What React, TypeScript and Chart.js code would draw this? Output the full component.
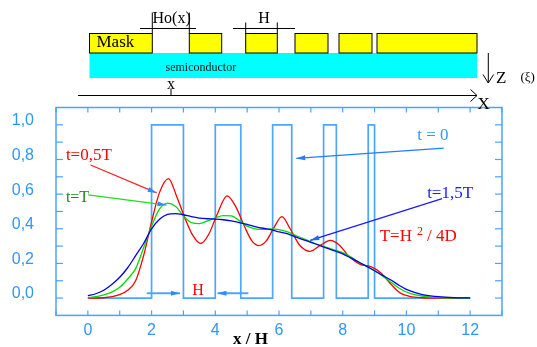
import React, { useEffect, useRef } from 'react';
import { Chart, registerables } from 'chart.js';

Chart.register(...registerables);

// ---------- data ----------
const xTickValues = [0, 2, 4, 6, 8, 10, 12];
const yTickValues = [0, 0.2, 0.4, 0.6, 0.8, 1.0];
const xMinorTicks = [-1, 0, 1, 2, 3, 4, 5, 6, 7, 8, 9, 10, 11, 12, 13];
const yMinorTicks = [0, 0.1, 0.2, 0.3, 0.4, 0.5, 0.6, 0.7, 0.8, 0.9, 1.0];

// t = 0 : initial square profile (mask openings)
const squareX = [0, 2, 3, 4, 4.8, 5.8, 6.4, 7.4, 7.8, 8.8, 9.0, 12];
const squareY = [0, 1, 0, 1, 0, 1, 0, 1, 0, 1, 0, 0];

// t = 0,5T
const redX = [0, 0.5, 1.0, 1.25, 1.5, 1.75, 2.0, 2.25, 2.53, 2.8, 3.05, 3.3, 3.54, 3.8, 4.05, 4.37, 4.65, 4.9, 5.15, 5.37, 5.6, 5.85, 6.09, 6.35, 6.65, 6.98, 7.3, 7.61, 7.9, 8.2, 8.55, 8.9, 9.2, 9.5, 9.8, 10.1, 10.5, 11, 12];
const redY = [0, 0.002, 0.02, 0.045, 0.10, 0.245, 0.44, 0.61, 0.69, 0.58, 0.46, 0.36, 0.315, 0.37, 0.48, 0.59, 0.525, 0.42, 0.33, 0.303, 0.33, 0.41, 0.47, 0.40, 0.305, 0.27, 0.305, 0.333, 0.305, 0.24, 0.195, 0.18, 0.145, 0.083, 0.03, 0.01, 0.002, 0, 0];

// t = T and t = 1,5T
const curveX = [0, 0.25, 0.5, 0.75, 1, 1.25, 1.5, 1.75, 2, 2.25, 2.5, 2.75, 3, 3.25, 3.5, 3.75, 4, 4.25, 4.5, 4.75, 5, 5.25, 5.5, 5.75, 6, 6.25, 6.5, 6.75, 7, 7.25, 7.5, 7.75, 8, 8.25, 8.5, 8.75, 9, 9.25, 9.5, 9.75, 10, 10.25, 10.5, 10.75, 11, 11.5, 12];
const greenY = [0.003, 0.008, 0.018, 0.034, 0.062, 0.11, 0.17, 0.29, 0.415, 0.515, 0.548, 0.53, 0.475, 0.435, 0.43, 0.445, 0.463, 0.476, 0.475, 0.447, 0.415, 0.40, 0.397, 0.40, 0.395, 0.383, 0.363, 0.345, 0.325, 0.307, 0.292, 0.277, 0.262, 0.238, 0.208, 0.183, 0.158, 0.128, 0.093, 0.060, 0.035, 0.02, 0.012, 0.006, 0.003, 0.001, 0];
const blueY = [0.013, 0.025, 0.045, 0.078, 0.12, 0.175, 0.245, 0.315, 0.40, 0.455, 0.483, 0.488, 0.481, 0.47, 0.462, 0.458, 0.456, 0.452, 0.445, 0.436, 0.425, 0.413, 0.403, 0.395, 0.382, 0.372, 0.355, 0.338, 0.322, 0.305, 0.288, 0.272, 0.255, 0.232, 0.208, 0.183, 0.158, 0.131, 0.106, 0.076, 0.05, 0.033, 0.02, 0.013, 0.008, 0.003, 0.001];

// ---------- styles ----------
const TICK_COLOR = '#2d96ff';
const FRAME_COLOR = '#4aa3ff';
const SQUARE_COLOR = '#4da6ff';
const SERIF = '"Liberation Serif", "Times New Roman", serif';
const SANS = '"Liberation Sans", Arial, sans-serif';

// annotation texts in data coordinates
const labels = [
  { text: 't=0,5T', u: -0.69, v: 0.797, color: '#ff0000', size: 17 },
  { text: 't=T', u: -0.69, v: 0.556, color: '#1a8a1a', size: 16 },
  { text: 't = 0', u: 10.34, v: 0.913, color: '#3399ff', size: 17 },
  { text: 't=1,5T', u: 10.65, v: 0.58, color: '#1a1aff', size: 17 },
  { text: 'H', u: 3.28, v: 0.018, color: '#ff0000', size: 16 },
];
const arrows = [
  { u1: 0.085, v1: 0.768, u2: 2.16, v2: 0.607, color: '#ff2020', head: '#2d8cff', w: 1.2 },
  { u1: 0.01, v1: 0.596, u2: 2.47, v2: 0.537, color: '#22dd22', head: '#2d8cff', w: 1.2 },
  { u1: 11.17, v1: 0.865, u2: 6.54, v2: 0.806, color: '#1f7fff', head: '#1f7fff', w: 1.2 },
  { u1: 11.12, v1: 0.574, u2: 6.98, v2: 0.333, color: '#1a1aff', head: '#1a6aff', w: 1.2 },
  { u1: 1.85, v1: 0.028, u2: 2.89, v2: 0.028, color: SQUARE_COLOR, head: '#2d8cff', w: 2 },
  { u1: 5.04, v1: 0.028, u2: 4.07, v2: 0.028, color: SQUARE_COLOR, head: '#2d8cff', w: 2 },
];

// top illustration (mask / semiconductor), in pixels
const maskRects = [[89.5, 152.3], [189.3, 221.7], [245.7, 277.3], [295, 328], [339, 372], [377, 477]];

function line(ctx: CanvasRenderingContext2D, x1: number, y1: number, x2: number, y2: number) {
  ctx.beginPath();
  ctx.moveTo(x1, y1);
  ctx.lineTo(x2, y2);
  ctx.stroke();
}

function arrowHead(ctx: CanvasRenderingContext2D, x1: number, y1: number, x2: number, y2: number, color: string) {
  const a = Math.atan2(y2 - y1, x2 - x1);
  const len = 9, hw = 2.5;
  ctx.fillStyle = color;
  ctx.beginPath();
  ctx.moveTo(x2, y2);
  ctx.lineTo(x2 - len * Math.cos(a) + hw * Math.sin(a), y2 - len * Math.sin(a) - hw * Math.cos(a));
  ctx.lineTo(x2 - len * Math.cos(a) - hw * Math.sin(a), y2 - len * Math.sin(a) + hw * Math.cos(a));
  ctx.closePath();
  ctx.fill();
}

const decor = {
  id: 'decor',
  beforeDatasetsDraw(chart: any) {
    const ctx: CanvasRenderingContext2D = chart.ctx;
    const { left, right, top, bottom } = chart.chartArea;
    const xs = chart.scales.x, ys = chart.scales.y;
    ctx.save();
    ctx.strokeStyle = FRAME_COLOR;
    ctx.lineWidth = 1.5;
    ctx.strokeRect(left, top, right - left, bottom - top);
    ctx.lineWidth = 1.2;
    for (const v of yMinorTicks) {
      const py = ys.getPixelForValue(v);
      line(ctx, left, py, left + 7, py);
      line(ctx, right - 7, py, right, py);
    }
    for (const u of xMinorTicks) {
      const px = xs.getPixelForValue(u);
      line(ctx, px, bottom, px, bottom - 5);
      line(ctx, px, top, px, top + 5);
    }
    ctx.restore();
  },
  afterDraw(chart: any) {
    const ctx: CanvasRenderingContext2D = chart.ctx;
    const xs = chart.scales.x, ys = chart.scales.y;
    const P = (u: number, v: number) => [xs.getPixelForValue(u), ys.getPixelForValue(v)];
    ctx.save();

    // arrows
    for (const a of arrows) {
      const [x1, y1] = P(a.u1, a.v1);
      const [x2, y2] = P(a.u2, a.v2);
      ctx.strokeStyle = a.color;
      ctx.lineWidth = a.w;
      line(ctx, x1, y1, x2, y2);
      arrowHead(ctx, x1, y1, x2, y2, a.head);
    }

    // annotation texts
    ctx.textAlign = 'left';
    ctx.textBaseline = 'alphabetic';
    for (const l of labels) {
      const [x, y] = P(l.u, l.v);
      ctx.font = `${l.size}px ${SERIF}`;
      ctx.fillStyle = l.color;
      ctx.fillText(l.text, x, y);
    }
    {
      const [x, y] = P(9.16, 0.328);
      ctx.fillStyle = '#ff0000';
      ctx.font = `17px ${SERIF}`;
      ctx.fillText('T=H', x, y);
      let cx = x + ctx.measureText('T=H').width + 5;
      ctx.font = `12px ${SERIF}`;
      ctx.fillText('2', cx, y - 6);
      cx += ctx.measureText('2').width + 4;
      ctx.font = `17px ${SERIF}`;
      ctx.fillText('/ 4D', cx, y);
    }

    // axis title
    ctx.fillStyle = '#000';
    ctx.font = `bold 17px ${SERIF}`;
    ctx.textAlign = 'center';
    ctx.fillText('x / H', 250.5, 344);

    // ----- top illustration -----
    ctx.fillStyle = '#00ffff';
    ctx.fillRect(89.5, 53, 477 - 89.5, 78 - 53);
    ctx.strokeStyle = '#000';
    ctx.lineWidth = 1;
    for (const [a, b] of maskRects) {
      ctx.fillStyle = '#ffff00';
      ctx.fillRect(a, 33.5, b - a, 19.5);
      ctx.strokeRect(a, 33.5, b - a, 19.5);
    }
    ctx.fillStyle = '#000';
    ctx.textAlign = 'left';
    ctx.font = `17px ${SERIF}`;
    ctx.fillText('Mask', 96.5, 47);
    ctx.font = `12px ${SERIF}`;
    ctx.fillStyle = '#1a1a1a';
    ctx.fillText('semiconductor', 165.5, 71);

    ctx.fillStyle = '#000';
    ctx.font = `16px ${SERIF}`;
    ctx.fillText('Ho(x)', 152.5, 22.5);
    ctx.fillText('H', 258.3, 22.5);
    // dimension lines
    line(ctx, 140, 28.5, 196, 28.5);
    line(ctx, 152.3, 12.5, 152.3, 33.5);
    line(ctx, 189.3, 12.5, 189.3, 33.5);
    line(ctx, 233, 28.5, 295, 28.5);
    line(ctx, 245.7, 22.5, 245.7, 33.5);
    line(ctx, 277.3, 22.5, 277.3, 33.5);

    // x axis arrow
    line(ctx, 78, 95.5, 477, 95.5);
    line(ctx, 470.5, 89.5, 477, 95.5);
    line(ctx, 470.5, 101.5, 477, 95.5);
    line(ctx, 171, 88.5, 171, 95.5);
    ctx.font = `16px ${SERIF}`;
    ctx.fillText('x', 167, 89);
    ctx.font = `17px ${SERIF}`;
    ctx.fillText('X', 477.5, 108.5);

    // Z arrow
    line(ctx, 488.3, 53, 488.3, 83);
    line(ctx, 483, 74.5, 488.3, 83);
    line(ctx, 493.6, 74.5, 488.3, 83);
    ctx.font = `17px ${SERIF}`;
    ctx.fillText('Z', 496, 83);
    ctx.font = `13px ${SERIF}`;
    ctx.fillText('(\u03BE)', 520.5, 81);

    ctx.restore();
  },
};

export default function App() {
  const ref = useRef<HTMLCanvasElement>(null);
  useEffect(() => {
    const canvas = ref.current!;
    const curve = (xs: number[], ys: number[]) => xs.map((x, i) => ({ x, y: ys[i] }));
    const smooth = { pointRadius: 0, cubicInterpolationMode: 'monotone', fill: false, borderWidth: 1.3 };
    const chart = new Chart(canvas, {
      type: 'line',
      data: {
        datasets: [
          { label: 't=1,5T', data: curve(curveX, blueY), borderColor: '#0000ee', ...smooth },
          { label: 't=T', data: curve(curveX, greenY), borderColor: '#00dd00', ...smooth },
          { label: 't=0,5T', data: curve(redX, redY), borderColor: '#ff0000', ...smooth },
          { label: 't=0', data: curve(squareX, squareY), borderColor: SQUARE_COLOR, borderWidth: 1.7, pointRadius: 0, tension: 0, stepped: 'before', fill: false },
        ],
      } as any,
      options: {
        animation: false,
        responsive: false,
        layout: { padding: { left: 0, top: 107.5, right: 35, bottom: 0 } },
        plugins: { legend: { display: false }, tooltip: { enabled: false } },
        scales: {
          x: {
            type: 'linear',
            min: -1,
            max: 13,
            grid: { display: false, drawTicks: false },
            border: { display: false },
            afterBuildTicks: (s: any) => { s.ticks = xTickValues.map((v) => ({ value: v })); },
            afterFit: (s: any) => { s.height = 24; },
            ticks: {
              color: TICK_COLOR,
              font: { family: SANS, size: 16 },
              padding: 6,
              maxRotation: 0,
              autoSkip: false,
              callback: (v: any) => String(v),
            },
          },
          y: {
            type: 'linear',
            min: -0.1,
            max: 1.1,
            grid: { display: false, drawTicks: false },
            border: { display: false },
            afterBuildTicks: (s: any) => { s.ticks = yTickValues.map((v) => ({ value: v })); },
            afterFit: (s: any) => { s.width = 56; },
            ticks: {
              color: TICK_COLOR,
              font: { family: SANS, size: 16 },
              padding: 22,
              labelOffset: -4,
              autoSkip: false,
              callback: (v: any) => Number(v).toFixed(1).replace('.', ','),
            },
          },
        },
      } as any,
      plugins: [decor],
    });
    return () => chart.destroy();
  }, []);
  return (
    <div style={{ position: 'absolute', left: 0, top: 0, width: 537, height: 347 }}>
      <canvas ref={ref} width={537} height={347} style={{ display: 'block', width: 537, height: 347 }} />
    </div>
  );
}
